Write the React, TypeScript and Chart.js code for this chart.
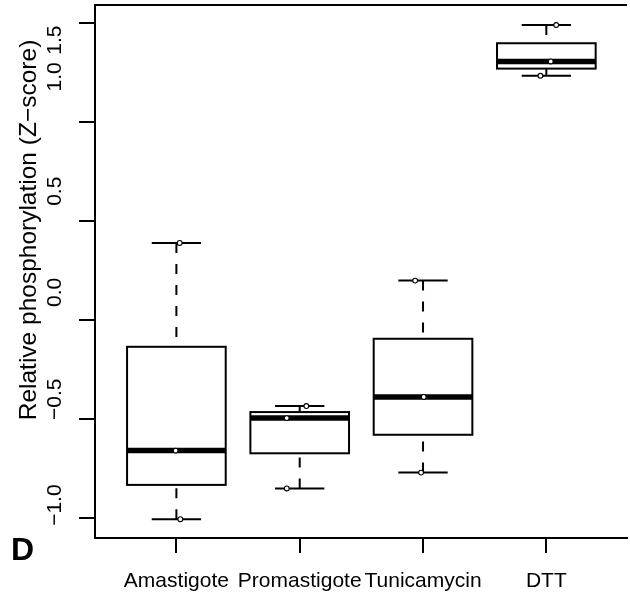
import { useEffect, useRef } from "react";
import { Chart, registerables } from "chart.js";

Chart.register(...registerables);

// ---- data ----
const categories = ["Amastigote", "Promastigote", "Tunicamycin", "DTT"];
const amastigote = [0.389, -0.659, -1.005];
const promastigote = [-0.434, -0.495, -0.85];
const tunicamycin = [0.199, -0.388, -0.77];
const dtt = [1.489, 1.305, 1.233];
const groups = [amastigote, promastigote, tunicamycin, dtt];
const yTicks = [-1.0, -0.5, 0.0, 0.5, 1.0, 1.5];
const yTickLabels = ["\u22121.0", "\u22120.5", "0.0", "0.5", "1.0", "1.5"];
const yTitle = "Relative phosphorylation (Z\u2212score)";
const panelLetter = "D";

// ---- presentation (not data) ----
const FONT = '"Liberation Sans", Arial, Helvetica, sans-serif';
const jitter = [
  [0.027, -0.006, 0.032],
  [0.054, -0.105, -0.105],
  [-0.064, 0.006, -0.016],
  [0.08, 0.036, -0.048],
];
// where each y tick label is centred (in y-axis units) as drawn in the figure
const yLabelAnchor = [-0.934, -0.4, 0.14, 0.65, 1.227, 1.413];
const BOX_HALF = 0.4;
const CAP_HALF = 0.2;

function fivenum(values: number[]): number[] {
  const s = [...values].sort((a, b) => a - b);
  const n = s.length;
  const n4 = Math.floor((n + 3) / 2) / 2;
  const d = [1, n4, (n + 1) / 2, n + 1 - n4, n];
  return d.map((k) => 0.5 * (s[Math.floor(k) - 1] + s[Math.ceil(k) - 1]));
}

const boxPlugin = {
  id: "boxes",
  beforeDatasetsDraw(chart: any) {
    const { ctx, scales } = chart;
    const x = scales.x;
    const y = scales.y;
    ctx.save();
    ctx.strokeStyle = "#000";
    ctx.lineCap = "butt";
    groups.forEach((g, i) => {
      const [mn, lh, md, uh, mx] = fivenum(g);
      const c = i + 1;
      const cx = x.getPixelForValue(c);
      const bl = x.getPixelForValue(c - BOX_HALF);
      const br = x.getPixelForValue(c + BOX_HALF);
      const cl = x.getPixelForValue(c - CAP_HALF);
      const cr = x.getPixelForValue(c + CAP_HALF);
      const pMn = y.getPixelForValue(mn);
      const pLh = y.getPixelForValue(lh);
      const pMd = y.getPixelForValue(md);
      const pUh = y.getPixelForValue(uh);
      const pMx = y.getPixelForValue(mx);
      ctx.lineWidth = 2;
      ctx.setLineDash([10, 11]);
      ctx.beginPath();
      ctx.moveTo(cx, pMx);
      ctx.lineTo(cx, pUh);
      ctx.moveTo(cx, pMn);
      ctx.lineTo(cx, pLh);
      ctx.stroke();
      ctx.setLineDash([]);
      ctx.beginPath();
      ctx.moveTo(cl, pMx);
      ctx.lineTo(cr, pMx);
      ctx.moveTo(cl, pMn);
      ctx.lineTo(cr, pMn);
      ctx.stroke();
      ctx.lineWidth = 2;
      ctx.strokeRect(bl, pUh, br - bl, pLh - pUh);
      ctx.lineWidth = 5.5;
      ctx.beginPath();
      ctx.moveTo(bl, pMd);
      ctx.lineTo(br, pMd);
      ctx.stroke();
    });
    ctx.restore();
  },
};

const textPlugin = {
  id: "texts",
  afterDraw(chart: any) {
    const { ctx, scales } = chart;
    const y = scales.y;
    ctx.save();
    ctx.fillStyle = "#000";
    ctx.font = `21px ${FONT}`;
    ctx.textAlign = "center";
    ctx.textBaseline = "alphabetic";
    yTickLabels.forEach((lab, i) => {
      const py = y.getPixelForValue(yLabelAnchor[i]);
      ctx.save();
      ctx.translate(61, py);
      ctx.rotate(-Math.PI / 2);
      ctx.fillText(lab, 0, 0);
      ctx.restore();
    });
    ctx.font = `24.5px ${FONT}`;
    ctx.save();
    ctx.translate(36, 230);
    ctx.rotate(-Math.PI / 2);
    ctx.fillText(yTitle, 0, 0);
    ctx.restore();
    ctx.font = `bold 32px ${FONT}`;
    ctx.textAlign = "left";
    ctx.fillText(panelLetter, 11, 560);
    ctx.restore();
  },
};

export default function App() {
  const ref = useRef<HTMLCanvasElement>(null);
  useEffect(() => {
    document.body.style.margin = "0";
    const canvas = ref.current!;
    const points = groups.flatMap((g, i) =>
      g.map((v, j) => ({ x: i + 1 + jitter[i][j], y: v }))
    );
    const chart = new Chart(canvas, {
      type: "scatter",
      data: {
        datasets: [
          {
            data: points,
            pointStyle: "circle",
            pointRadius: 2.4,
            pointBorderWidth: 1.1,
            pointBorderColor: "#000",
            pointBackgroundColor: "#fff",
            pointHoverRadius: 2.4,
          },
        ],
      },
      options: {
        animation: false,
        responsive: false,
        devicePixelRatio: 1,
        layout: { padding: 0 },
        plugins: { legend: { display: false }, tooltip: { enabled: false } },
        scales: {
          x: {
            type: "linear",
            position: "bottom",
            min: 0.34,
            max: 4.65,
            afterBuildTicks: (s: any) => {
              s.ticks = categories.map((_, i) => ({ value: i + 1 }));
            },
            afterFit: (s: any) => {
              s.height = 59;
            },
            ticks: {
              callback: (v: any) => categories[Number(v) - 1] ?? "",
              color: "#000",
              font: { family: FONT, size: 21 },
              padding: 16,
              maxRotation: 0,
              minRotation: 0,
              autoSkip: false,
            },
            grid: {
              drawOnChartArea: false,
              drawTicks: true,
              tickLength: 15,
              color: "#000",
              lineWidth: 2,
            },
            border: { display: true, color: "#000", width: 2 },
          },
          xTop: {
            type: "linear",
            position: "top",
            min: 0.34,
            max: 4.65,
            ticks: { display: false },
            grid: { display: false },
            border: { display: true, color: "#000", width: 2 },
            afterFit: (s: any) => {
              s.height = 5;
            },
          },
          y: {
            type: "linear",
            position: "left",
            min: -1.1,
            max: 1.59,
            afterBuildTicks: (s: any) => {
              s.ticks = yTicks.map((v) => ({ value: v }));
            },
            ticks: { display: false },
            grid: {
              drawOnChartArea: false,
              drawTicks: true,
              tickLength: 16,
              color: "#000",
              lineWidth: 2,
            },
            border: { display: true, color: "#000", width: 2 },
            afterFit: (s: any) => {
              s.width = 95;
            },
          },
        },
      },
      plugins: [boxPlugin, textPlugin],
    });
    return () => chart.destroy();
  }, []);
  return (
    <div style={{ width: 630, height: 597, overflow: "hidden", background: "#fff" }}>
      <canvas ref={ref} width={630} height={597} style={{ display: "block" }} />
    </div>
  );
}
